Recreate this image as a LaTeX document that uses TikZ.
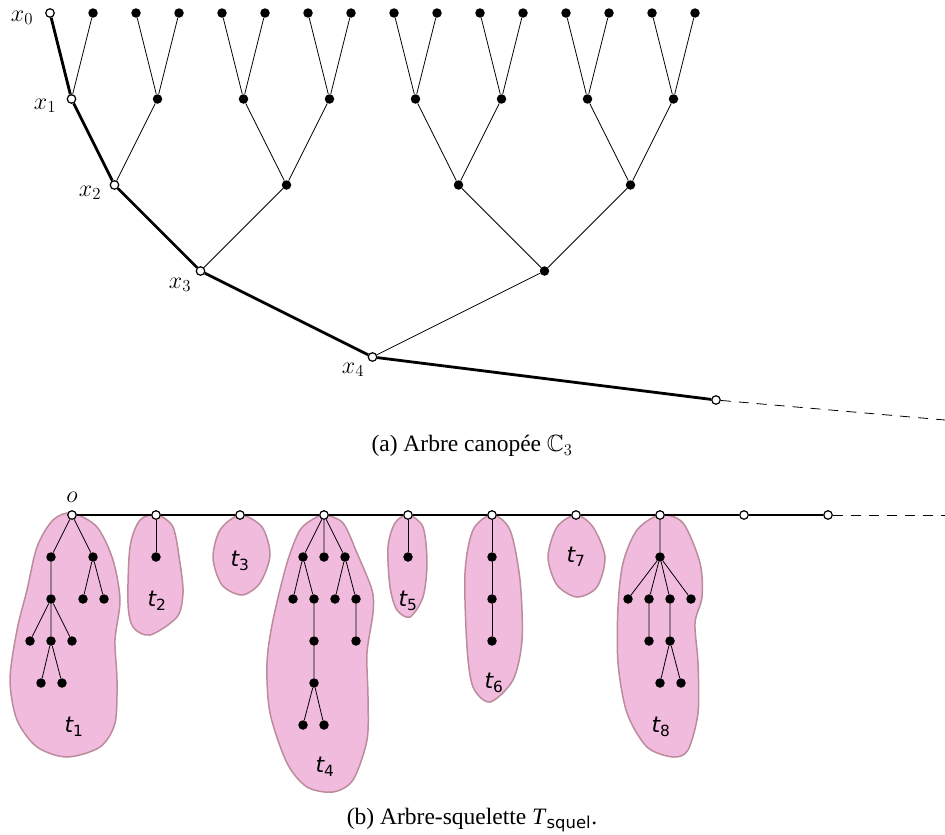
\RequirePackage{fix-cm}
\documentclass[tikz,border=0pt]{standalone}
\usepackage{amsmath,amssymb}
\usepackage{fontspec}
\setmainfont{Liberation Serif}
\setsansfont{DejaVu Sans}
\definecolor{blobfill}{RGB}{240,187,220}
\definecolor{blobline}{RGB}{188,140,156}
\newcommand{\tlab}[1]{$\textsf{\itshape t}_{\textsf{#1}}$}
\begin{document}
\begin{tikzpicture}[x=1pt,y=-1pt,
  fdot/.style={circle,fill=black,inner sep=0pt,minimum size=9.5pt},
  opennode/.style={circle,draw=black,fill=white,line width=1.2pt,inner sep=0pt,minimum size=8.5pt},
  thinline/.style={line width=0.8pt},
  spine/.style={line width=2.8pt},
  dashline/.style={line width=0.8pt,dash pattern=on 10pt off 8pt},
  blob/.style={fill=blobfill,draw=blobline,line width=1.5pt},
  lbl/.style={font=\fontsize{24}{28}\selectfont,inner sep=0pt},
  tl/.style={font=\fontsize{22}{26}\selectfont,inner sep=0pt},
  captxt/.style={font=\fontsize{23.5}{28}\selectfont,inner sep=0pt}]
\useasboundingbox (0,0) rectangle (945,835);

% ---------- (a) canopy tree ----------
\node[opennode] (A0) at (50,13) {};
\foreach \i in {1,...,15}{\node[fdot] (A\i) at ({50+43*\i},13) {};}
\node[opennode] (B0) at (71.5,99) {};
\foreach \j in {1,...,7}{\node[fdot] (B\j) at ({71.5+86*\j},99) {};}
\node[opennode] (C0) at (114.5,185) {};
\foreach \k in {1,2,3}{\node[fdot] (C\k) at ({114.5+172*\k},185) {};}
\node[opennode] (D0) at (200.5,271) {};
\node[fdot] (D1) at (544.5,271) {};
\node[opennode] (E0) at (372.5,357) {};
\node[opennode] (F0) at (716,400) {};
\coordinate (Fend) at (945,420);

\foreach \i in {1,...,15}{\pgfmathtruncatemacro\p{\i/2}\draw[thinline] (A\i) -- (B\p);}
\foreach \j in {1,...,7}{\pgfmathtruncatemacro\p{\j/2}\draw[thinline] (B\j) -- (C\p);}
\foreach \k in {1,2,3}{\pgfmathtruncatemacro\p{\k/2}\draw[thinline] (C\k) -- (D\p);}
\draw[thinline] (D1) -- (E0);
\draw[spine] (A0) -- (B0) -- (C0) -- (D0) -- (E0) -- (F0);
\draw[dashline] (F0) -- (Fend);

\node[lbl] (lx0) at (22,18) {$x_0$};
\node[lbl] (lx1) at (45,106) {$x_1$};
\node[lbl] (lx2) at (90,193) {$x_2$};
\node[lbl] (lx3) at (180,285) {$x_3$};
\node[lbl] (lx4) at (353,370) {$x_4$};

\node[captxt] (capa) at (472,446) {(a) Arbre canopée $\mathbb{C}_3$};

% ---------- (b) skeleton tree ----------
% blobs
\draw[blob] plot[smooth cycle] coordinates {(72,513) (97,527) (113,560) (120,600) (115,640) (117,680) (115,723) (100,747) (67,757) (37,747) (17,720) (10,680) (17,630) (27,590) (37,547) (53,520)};
\draw[blob] plot[smooth cycle] coordinates {(157,515) (173,527) (180,563) (183,593) (177,617) (150,635) (133,627) (128,603) (130,547) (140,520)};
\draw[blob] plot[smooth cycle] coordinates {(240,515) (262,527) (270,555) (260,583) (242,595) (222,585) (213,558) (220,530)};
\draw[blob] plot[smooth cycle] coordinates {(325,515) (343,523) (357,553) (372,590) (373,613) (367,653) (368,697) (367,740) (353,780) (333,792) (307,787) (287,763) (270,713) (267,663) (273,620) (287,563) (300,530) (315,518)};
\draw[blob] plot[smooth cycle] coordinates {(408,515) (423,527) (427,563) (423,597) (410,617) (397,610) (390,587) (388,547) (395,523)};
\draw[blob] plot[smooth cycle] coordinates {(492,515) (510,530) (520,580) (522,640) (513,680) (490,702) (473,687) (467,647) (465,573) (473,530)};
\draw[blob] plot[smooth cycle] coordinates {(576,515) (593,527) (605,557) (597,587) (577,597) (557,585) (548,557) (557,527)};
\draw[blob] plot[smooth cycle] coordinates {(660,515) (683,523) (700,563) (702,597) (695,623) (698,663) (698,713) (688,750) (673,757) (647,747) (627,713) (618,663) (618,607) (623,563) (637,530)};

% spine nodes
\foreach \i in {0,...,9}{\node[opennode] (S\i) at ({72+84*\i},515) {};}
\coordinate (Send) at (945,515);

% t1
\node[fdot] (a1) at (51,557) {};
\node[fdot] (a2) at (93,557) {};
\node[fdot] (a3) at (51,599) {};
\node[fdot] (a4) at (83,599) {};
\node[fdot] (a5) at (104,599) {};
\node[fdot] (a6) at (30,641) {};
\node[fdot] (a7) at (51,641) {};
\node[fdot] (a8) at (72,641) {};
\node[fdot] (a9) at (41,683) {};
\node[fdot] (a10) at (62,683) {};
\draw[thinline] (S0) -- (a1) (S0) -- (a2) (a1) -- (a3) (a2) -- (a4) (a2) -- (a5)
  (a3) -- (a6) (a3) -- (a7) (a3) -- (a8) (a7) -- (a9) (a7) -- (a10);
% t2
\node[fdot] (b1) at (156,557) {};
\draw[thinline] (S1) -- (b1);
% t4
\node[fdot] (d1) at (303,557) {};
\node[fdot] (d2) at (324,557) {};
\node[fdot] (d3) at (345,557) {};
\node[fdot] (d4) at (293,599) {};
\node[fdot] (d5) at (314,599) {};
\node[fdot] (d6) at (335,599) {};
\node[fdot] (d7) at (356,599) {};
\node[fdot] (d8) at (314,641) {};
\node[fdot] (d9) at (356,641) {};
\node[fdot] (d10) at (314,683) {};
\node[fdot] (d11) at (303,725) {};
\node[fdot] (d12) at (324,725) {};
\draw[thinline] (S3) -- (d1) (S3) -- (d2) (S3) -- (d3) (d1) -- (d4) (d1) -- (d5)
  (d3) -- (d6) (d3) -- (d7) (d5) -- (d8) (d7) -- (d9) (d8) -- (d10) (d10) -- (d11) (d10) -- (d12);
% t5
\node[fdot] (e1) at (408,557) {};
\draw[thinline] (S4) -- (e1);
% t6
\node[fdot] (f1) at (492,557) {};
\node[fdot] (f2) at (492,599) {};
\node[fdot] (f3) at (492,641) {};
\draw[thinline] (S5) -- (f1) -- (f2) -- (f3);
% t8
\node[fdot] (h1) at (660,557) {};
\node[fdot] (h2) at (628,599) {};
\node[fdot] (h3) at (649,599) {};
\node[fdot] (h4) at (670,599) {};
\node[fdot] (h5) at (691,599) {};
\node[fdot] (h6) at (649,641) {};
\node[fdot] (h7) at (670,641) {};
\node[fdot] (h8) at (660,683) {};
\node[fdot] (h9) at (681,683) {};
\draw[thinline] (S7) -- (h1) (h1) -- (h2) (h1) -- (h3) (h1) -- (h4) (h1) -- (h5)
  (h3) -- (h6) (h4) -- (h7) (h7) -- (h8) (h7) -- (h9);

% spine
\draw[spine] (S0) -- (S1) -- (S2) -- (S3) -- (S4) -- (S5) -- (S6) -- (S7) -- (S8) -- (S9);
\draw[dashline] (S9) -- (Send);

% labels
\node[lbl] (lo) at (72,497) {$o$};
\node[tl] (t1) at (74,727) {\tlab{1}};
\node[tl] (t2) at (157,601) {\tlab{2}};
\node[tl] (t3) at (240,561) {\tlab{3}};
\node[tl] (t4) at (325,767) {\tlab{4}};
\node[tl] (t5) at (408,601) {\tlab{5}};
\node[tl] (t6) at (494,683) {\tlab{6}};
\node[tl] (t7) at (576,557) {\tlab{7}};
\node[tl] (t8) at (661,727) {\tlab{8}};

\node[captxt] (capb) at (472,820) {(b) Arbre-squelette \textit{T}$_{\textsf{squel}}$.};
\end{tikzpicture}
\end{document}
